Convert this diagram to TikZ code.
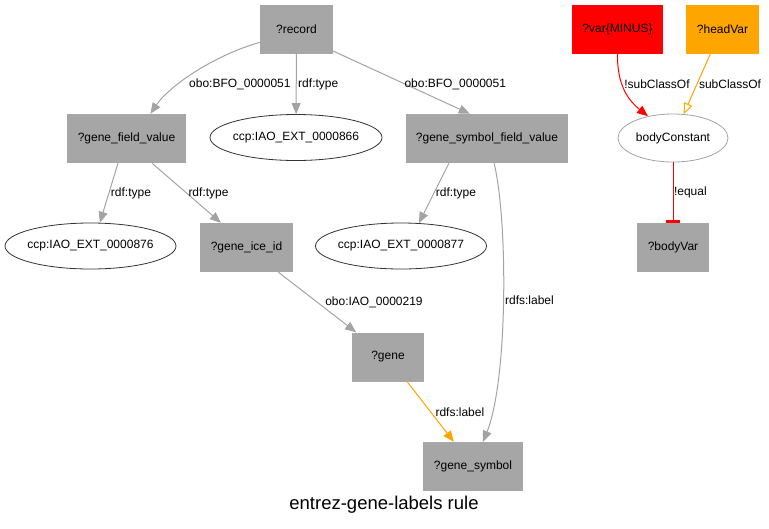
\documentclass[tikz,border=0pt]{standalone}
\usepackage{fontspec}
\setmainfont{Liberation Sans}
\usetikzlibrary{arrows.meta,shapes.geometric}

\definecolor{boxgray}{HTML}{A6A6A6}
\definecolor{edgegray}{HTML}{A3A3A3}
\definecolor{vred}{HTML}{FF0000}
\definecolor{vorange}{HTML}{FFA500}

\begin{document}
\begin{tikzpicture}[x=1pt,y=-1pt,
  every node/.style={font=\fontsize{12}{14}\selectfont},
  var/.style={rectangle, fill=boxgray, inner sep=0pt, minimum height=49pt},
  const/.style={ellipse, draw=black!80, line width=.8pt, inner ysep=0pt, inner xsep=-3pt, minimum height=46pt},
  link/.style={draw=edgegray, line width=1pt, -{Triangle[length=11pt,width=9pt]}},
  lbl/.style={inner sep=1.5pt}]
 \useasboundingbox (0,0) rectangle (769,528);
 % nodes
 \node[var, minimum width=73pt] (rec) at (296.5,29) {?record};
 \node[var, minimum width=119pt] (gfv) at (126.5,138.5) {?gene\_field\_value};
 \node[const, minimum width=172pt] (c866) at (296,137.5) {ccp:IAO\_EXT\_0000866};
 \node[var, minimum width=162pt] (gsfv) at (487,138.5) {?gene\_symbol\_field\_value};
 \node[const, minimum width=171pt] (c876) at (90.5,246) {ccp:IAO\_EXT\_0000876};
 \node[var, minimum width=93pt] (gie) at (246.5,247.5) {?gene\_ice\_id};
 \node[const, minimum width=171pt] (c877) at (401,246) {ccp:IAO\_EXT\_0000877};
 \node[var, minimum width=72pt] (gene) at (388,357) {?gene};
 \node[var, minimum width=100pt] (gsym) at (473,466.5) {?gene\_symbol};
 \node[var, fill=vred, minimum width=91pt] (mvar) at (617.5,29) {?var\{MINUS\}};
 \node[var, fill=vorange, minimum width=73pt] (hvar) at (722.5,29) {?headVar};
 \node[const, draw=edgegray, inner xsep=-2pt, minimum width=110pt, minimum height=48pt] (bconst) at (673,138) {bodyConstant};
 \node[var, minimum width=72pt] (bvar) at (673,247.5) {?bodyVar};
 \node[font=\fontsize{18.5}{22}\selectfont] (title) at (384,505) {entrez-gene-labels rule};
 % edges
 \draw[link] (rec.200) .. controls (215,55) and (170,85) .. node[lbl,pos=.66,right,xshift=9pt] {obo:BFO\_0000051} (gfv.46);
 \draw[link] (rec) -- node[lbl,right] {rdf:type} (c866);
 \draw[link] (rec.-31) -- node[lbl,pos=.53,right,xshift=-3pt] {obo:BFO\_0000051} (gsfv.125);
 \draw[link] (gfv.251) -- node[lbl,right] {rdf:type} (c876.68);
 \draw[link] (gfv.-44) -- node[lbl,right] {rdf:type} (gie.136);
 \draw[link] (gsfv.213) -- node[lbl,right] {rdf:type} (c877.52);
 \draw[link] (gsfv.-74) .. controls (508,220) and (508,380) .. node[lbl,right] {rdfs:label} (gsym.68);
 \draw[link] (gie) -- node[lbl,right,xshift=6pt] {obo:IAO\_0000219} (gene);
 \draw[link, draw=vorange] (gene) -- node[lbl,right,xshift=3pt] {rdfs:label} (gsym);
 \draw[link, draw=vred] (mvar.-90) .. controls (617,85) and (628,100) .. node[lbl,pos=.4,right] {!subClassOf} (bconst.139);
 \draw[draw=vorange, line width=1pt, -{Triangle[open,length=11pt,width=9pt]}] (hvar.244) -- node[lbl,right] {subClassOf} (bconst.66);
 \draw[draw=vred, line width=1pt, -{Rectangle[length=3pt,width=14pt]}] (bconst) -- node[lbl,right,inner sep=.5pt] {!equal} (bvar);
\end{tikzpicture}
\end{document}
